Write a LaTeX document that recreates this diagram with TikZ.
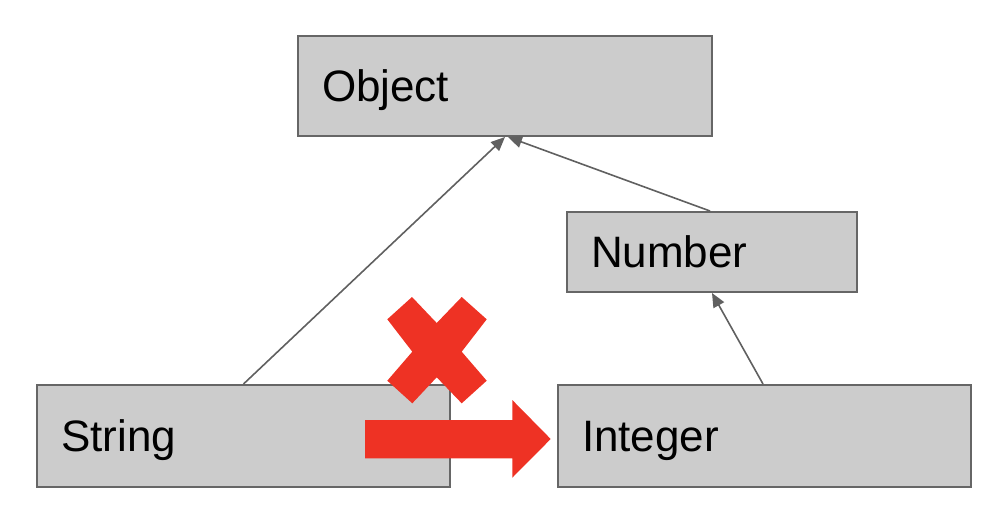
\documentclass[tikz,border=0pt]{standalone}
\usepackage{fontspec}
\setmainfont{Liberation Sans}
\usetikzlibrary{arrows.meta}
\definecolor{boxfill}{HTML}{CCCCCC}
\definecolor{boxline}{HTML}{666666}
\definecolor{arrline}{HTML}{606060}
\definecolor{redmark}{HTML}{EE3224}
\begin{document}
\begin{tikzpicture}[x=1pt,y=-1pt,
  classbox/.style={draw=boxline, fill=boxfill, line width=2pt, rectangle,
    inner xsep=24pt, inner ysep=0pt, align=left, font=\fontsize{44}{44}\selectfont,
    text height=31.5pt, text depth=0pt},
  inherit/.style={draw=arrline, line width=1.6pt, -{Triangle[length=14pt,width=12pt]}}]
\path[use as bounding box] (0,0) rectangle (1004,516);
\node[classbox, text width=366pt, minimum height=100pt] (Object) at (505,86) {Object};
\node[classbox, text width=242pt, minimum height=80pt] (Number) at (712,252) {Number};
\node[classbox, text width=365pt, minimum height=102pt] (String) at (243.5,436) {String};
\node[classbox, text width=365pt, minimum height=102pt] (Integer) at (764.5,436) {Integer};
\draw[inherit] (String.north) -- (Object.south);
\draw[inherit] ([xshift=-2pt]Number.north) -- ([xshift=3pt]Object.south);
\draw[inherit] ([xshift=-1.5pt]Integer.north) -- (Number.south);
% red cross
\fill[redmark] (412,297) -- (436.7,323) -- (461.7,297) -- (486.7,319.3) -- (461.7,351.7)
  -- (486.7,380.7) -- (461.7,403.3) -- (436.7,377.3) -- (412.3,403.3) -- (387.3,380.7)
  -- (412.3,351.7) -- (387.3,319.3) -- cycle;
% red block arrow
\fill[redmark] (365,420) -- (512.3,420) -- (512.3,400) -- (550.7,439) -- (512.3,477.7)
  -- (512.3,458.3) -- (365,458.3) -- cycle;
\end{tikzpicture}
\end{document}
